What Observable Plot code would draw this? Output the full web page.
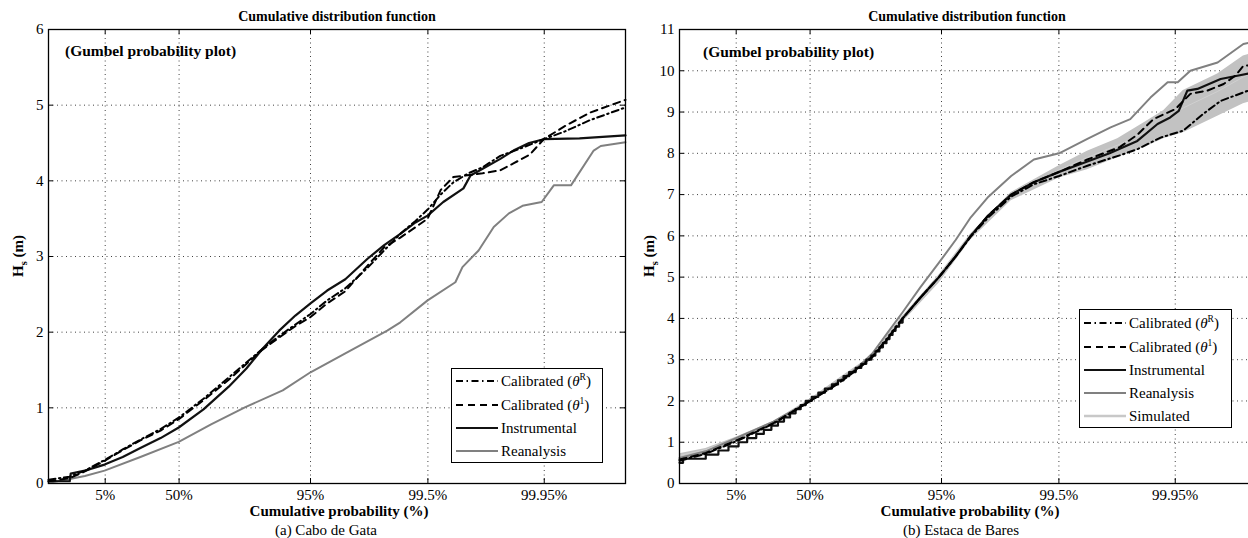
<!DOCTYPE html>
<html><head><meta charset="utf-8">
<script src="https://cdn.jsdelivr.net/npm/d3@7"></script>
<script src="https://cdn.jsdelivr.net/npm/@observablehq/plot@0.6"></script>
<style>
html,body{margin:0;padding:0;background:#fff;overflow:hidden;width:1248px;height:538px}
#fig{position:relative;width:1248px;height:538px;overflow:hidden;font-family:"Liberation Serif","Times New Roman",serif;color:#000}
.panel{position:absolute;top:0}
.t{position:absolute;white-space:nowrap;transform:translate(-50%,-50%);line-height:1}
.l{position:absolute;white-space:nowrap;transform:translate(0,-50%);line-height:1}
.title{font-weight:bold;font-size:14px}
.sub{font-weight:bold;font-size:15.5px}
.xlab{font-weight:bold;font-size:15px}
.cap{font-size:15px}
.ylab{font-weight:bold;font-size:15px;transform:translate(-50%,-50%) rotate(-90deg)}
.legend{position:absolute;border:1px solid #000;background:#fff;box-sizing:border-box}
.row{position:absolute;left:0;height:20px;transform:translateY(-50%);display:flex;align-items:center;font-size:15px;white-space:nowrap}
.row svg{margin-left:4px;margin-right:3px}
</style></head>
<body><div id="fig"></div>
<script>
// ---------- axis definitions ----------
const xTickProbs = [0.05, 0.5, 0.95, 0.995, 0.9995];
const xTickLabels = ["5%", "50%", "95%", "99.5%", "99.95%"];
const xDomainProbs = [0.0001, 0.9999];
const yTicksA = [0, 1, 2, 3, 4, 5, 6];
const yTicksB = [0, 1, 2, 3, 4, 5, 6, 7, 8, 9, 10, 11];

// ---------- (a) Cabo de Gata : [Gumbel reduced variate, Hs] ----------
const instrumentalA = [[-2.22,0.03],[-1.80,0.03],[-1.78,0.13],[-1.50,0.17],[-1.11,0.25],[-0.75,0.35],[-0.40,0.47],[0.0,0.60],[0.36,0.74],[0.85,0.98],[1.35,1.28],[1.70,1.52],[2.02,1.78],[2.35,2.02],[2.67,2.22],[2.97,2.38],[3.30,2.55],[3.66,2.70],[4.10,2.97],[4.43,3.15],[4.75,3.30],[5.05,3.45],[5.29,3.54],[5.60,3.72],[6.00,3.90],[6.14,4.07],[6.38,4.16],[6.73,4.29],[6.99,4.40],[7.30,4.50],[7.59,4.55],[8.30,4.56],[9.21,4.60]];
const calibRA = [[-2.22,0.05],[-1.80,0.09],[-1.50,0.17],[-1.11,0.31],[-0.75,0.45],[-0.40,0.58],[0.0,0.72],[0.36,0.87],[0.85,1.12],[1.35,1.40],[1.70,1.60],[2.02,1.78],[2.35,1.95],[2.67,2.10],[2.97,2.24],[3.30,2.42],[3.66,2.58],[4.10,2.85],[4.43,3.08],[4.75,3.30],[5.05,3.47],[5.29,3.62],[5.55,3.82],[5.80,3.98],[6.10,4.10],[6.38,4.18],[6.73,4.33],[7.10,4.42],[7.59,4.55],[8.0,4.65],[8.5,4.80],[9.21,4.97]];
const calib1A = [[-2.22,0.03],[-1.80,0.07],[-1.50,0.16],[-1.11,0.30],[-0.75,0.44],[-0.40,0.57],[0.0,0.70],[0.36,0.85],[0.85,1.10],[1.35,1.37],[1.70,1.58],[2.02,1.77],[2.35,1.93],[2.67,2.08],[2.97,2.20],[3.30,2.38],[3.66,2.54],[4.10,2.88],[4.43,3.12],[4.75,3.25],[5.10,3.41],[5.29,3.50],[5.55,3.88],[5.80,4.05],[6.38,4.10],[6.73,4.14],[6.99,4.23],[7.32,4.35],[7.59,4.55],[8.0,4.72],[8.5,4.90],[9.21,5.07]];
const reanalysisA = [[-2.22,0.01],[-1.80,0.06],[-1.50,0.10],[-1.11,0.17],[-0.40,0.35],[0.36,0.55],[1.0,0.78],[1.68,1.01],[2.42,1.23],[2.97,1.47],[3.66,1.72],[4.49,2.02],[4.75,2.13],[5.29,2.42],[5.84,2.66],[5.98,2.86],[6.30,3.08],[6.60,3.39],[6.90,3.57],[7.17,3.67],[7.55,3.72],[7.79,3.94],[8.13,3.94],[8.58,4.40],[8.72,4.46],[9.21,4.51]];

// ---------- (b) Estaca de Bares ----------
const instrumentalStepsB = [[-2.22,0.5],[-2.15,0.6],[-1.70,0.7],[-1.45,0.8],[-1.25,0.9],[-1.05,1.0],[-0.88,1.1],[-0.70,1.2],[-0.55,1.3],[-0.40,1.4],[-0.27,1.5],[-0.15,1.6],[-0.03,1.7],[0.08,1.8],[0.18,1.9],[0.28,2.0],[0.40,2.1],[0.53,2.2],[0.66,2.3],[0.80,2.4],[0.92,2.5],[1.03,2.6],[1.14,2.7],[1.27,2.8],[1.38,2.9],[1.48,3.0],[1.58,3.1],[1.66,3.2],[1.74,3.3],[1.81,3.4],[1.88,3.5],[1.94,3.6],[2.00,3.7],[2.06,3.8],[2.13,3.9],[2.20,4.0]];
const instrumentalB = [[2.20,4.0],[2.55,4.5],[2.92,5.0],[3.25,5.5],[3.55,6.0],[3.90,6.5],[4.35,7.0],[4.80,7.3],[5.30,7.55],[5.86,7.8],[6.30,8.0],[6.85,8.3],[7.25,8.71],[7.50,8.87],[7.67,9.03],[7.84,9.52],[8.04,9.56],[8.50,9.80],[8.83,9.88],[9.05,9.93],[9.21,9.95]];
const calibRB = [[-2.22,0.55],[-1.7,0.72],[-1.1,1.02],[-0.36,1.45],[0.37,2.0],[0.9,2.42],[1.3,2.78],[1.6,3.08],[1.9,3.52],[2.2,4.0],[2.55,4.5],[2.92,5.0],[3.25,5.5],[3.55,5.98],[3.9,6.45],[4.35,6.95],[4.8,7.25],[5.3,7.45],[5.86,7.7],[6.5,7.95],[6.85,8.1],[7.31,8.38],[7.76,8.55],[8.16,8.96],[8.5,9.27],[9.05,9.52],[9.21,9.58]];
const calib1B = [[-2.22,0.58],[-1.7,0.74],[-1.1,1.04],[-0.36,1.46],[0.37,2.0],[0.9,2.4],[1.3,2.76],[1.6,3.06],[1.9,3.5],[2.2,4.0],[2.55,4.5],[2.92,5.0],[3.25,5.5],[3.55,6.0],[3.9,6.5],[4.35,7.0],[4.8,7.3],[5.3,7.55],[5.86,7.85],[6.5,8.15],[6.85,8.45],[7.17,8.83],[7.6,9.07],[7.9,9.44],[8.24,9.52],[8.56,9.68],[8.79,9.88],[8.95,10.12],[9.21,10.15]];
const reanalysisB = [[-2.22,0.62],[-1.7,0.78],[-1.1,1.1],[-0.36,1.5],[0.37,2.0],[0.9,2.45],[1.3,2.8],[1.6,3.15],[1.9,3.65],[2.2,4.15],[2.55,4.75],[2.92,5.35],[3.25,5.9],[3.55,6.45],[3.9,6.95],[4.35,7.45],[4.8,7.85],[5.3,8.0],[5.86,8.35],[6.32,8.63],[6.71,8.83],[7.11,9.35],[7.45,9.72],[7.65,9.72],[7.9,10.0],[8.44,10.2],[8.95,10.65],[9.21,10.72]];
// simulated envelope: [g, lower, upper]
const simulatedBandB = [[-2.22,0.50,0.72],[-1.7,0.68,0.85],[-1.1,0.98,1.12],[-0.36,1.40,1.50],[0.37,1.95,2.05],[1.0,2.50,2.60],[1.6,3.00,3.10],[2.2,3.90,4.05],[2.92,4.85,5.05],[3.55,5.90,6.05],[4.35,6.85,7.05],[5.3,7.40,7.70],[5.86,7.60,8.05],[6.46,7.90,8.35],[7.0,8.15,8.75],[7.37,8.35,9.03],[7.76,8.50,9.52],[8.44,8.90,9.92],[8.95,9.20,10.36],[9.21,9.30,10.45]];
const simulatedB = [[-2.22,0.68],[-1.7,0.82],[-1.1,1.09],[-0.36,1.48],[0.37,2.02],[1.0,2.57],[1.6,3.07],[2.2,4.0],[2.92,4.98],[3.55,5.98],[4.35,6.98],[5.3,7.6],[5.86,7.9],[6.46,8.2],[7.0,8.5],[7.37,8.8],[7.76,9.1],[8.44,9.5],[8.95,9.85],[9.21,10.0]];

// ---------- helpers ----------
const G = p => -Math.log(-Math.log(p));
const xTickPos = xTickProbs.map(G);
const xDomain = xDomainProbs.map(G);
const fmtX = d => xTickLabels[xTickPos.findIndex(v => Math.abs(v - d) < 1e-9)];
const FONT = '"Liberation Serif","Times New Roman",serif';

const styles = {
  calibR: {stroke: "#000", strokeWidth: 2, strokeDasharray: "7,3.5,1.5,3.5"},
  calib1: {stroke: "#000", strokeWidth: 2, strokeDasharray: "7,5"},
  instr:  {stroke: "#111", strokeWidth: 2.2},
  rean:   {stroke: "#808080", strokeWidth: 2},
  sim:    {stroke: "#c8c8c8", strokeWidth: 2.5}
};
const X = d => d[0], Y = d => d[1];

function panel(yTicks, series, pxPerY) {
  const yMax = yTicks[yTicks.length - 1];
  const dy = 5 / pxPerY, dx = 5 / 50.5;
  return Plot.plot({
    width: 640, height: 538,
    marginLeft: 48, marginRight: 15, marginTop: 29, marginBottom: 55,
    style: {fontFamily: FONT, fontSize: "15px", background: "transparent", color: "#000"},
    x: {domain: xDomain, label: null},
    y: {domain: [0, yMax], label: null},
    marks: [
      Plot.gridX(xTickPos, {stroke: "#000", strokeOpacity: 0.75, strokeDasharray: "1,3.5"}),
      Plot.gridY(yTicks, {stroke: "#000", strokeOpacity: 0.75, strokeDasharray: "1,3.5"}),
      ...series,
      Plot.ruleX(xTickPos, {y1: 0, y2: dy, stroke: "#000"}),
      Plot.ruleX(xTickPos, {y1: yMax, y2: yMax - dy, stroke: "#000"}),
      Plot.ruleY(yTicks, {x1: xDomain[0], x2: xDomain[0] + dx, stroke: "#000"}),
      Plot.ruleY(yTicks, {x1: xDomain[1], x2: xDomain[1] - dx, stroke: "#000"}),
      Plot.axisX(xTickPos, {tickFormat: fmtX, tickSize: 0, tickPadding: 6, fontSize: 15, label: null}),
      Plot.axisY(yTicks, {tickFormat: d => String(d), tickSize: 0, tickPadding: 5, fontSize: 15, label: null}),
      Plot.frame({stroke: "#000", strokeWidth: 1.3})
    ]
  });
}

const seriesA = [
  Plot.line(reanalysisA, {x: X, y: Y, ...styles.rean}),
  Plot.line(instrumentalA, {x: X, y: Y, ...styles.instr}),
  Plot.line(calib1A, {x: X, y: Y, ...styles.calib1}),
  Plot.line(calibRA, {x: X, y: Y, ...styles.calibR})
];
const seriesB = [
  Plot.areaY(simulatedBandB, {x: d => d[0], y1: d => d[1], y2: d => d[2], fill: "#c2c2c2"}),
  Plot.line(simulatedB, {x: X, y: Y, stroke: "#d0d0d0", strokeWidth: 1}),
  Plot.line(reanalysisB, {x: X, y: Y, ...styles.rean}),
  Plot.line(instrumentalStepsB, {x: X, y: Y, curve: "step-after", ...styles.instr}),
  Plot.line(instrumentalB, {x: X, y: Y, ...styles.instr}),
  Plot.line(calib1B, {x: X, y: Y, ...styles.calib1}),
  Plot.line(calibRB, {x: X, y: Y, ...styles.calibR})
];

const fig = document.getElementById("fig");
const pa = panel(yTicksA, seriesA, 75.67); pa.classList.add("panel"); pa.style.left = "0px";
const pb = panel(yTicksB, seriesB, 41.3); pb.classList.add("panel"); pb.style.left = "631px";
fig.appendChild(pa); fig.appendChild(pb);

function addText(cls, html, x, y) {
  const d = document.createElement("div");
  d.className = cls; d.innerHTML = html; d.style.left = x + "px"; d.style.top = y + "px";
  fig.appendChild(d); return d;
}
const ylabHTML = 'H<sub style="font-size:10.5px">s</sub> (m)';
// panel (a)
addText("t title", "Cumulative distribution function", 337, 17);
addText("l sub", "(Gumbel probability plot)", 65, 51);
addText("t xlab", "Cumulative probability (%)", 339, 511);
addText("t cap", "(a) Cabo de Gata", 326, 530);
addText("t ylab", ylabHTML, 20, 256);
// panel (b)
addText("t title", "Cumulative distribution function", 967, 17);
addText("l sub", "(Gumbel probability plot)", 703, 52);
addText("t xlab", "Cumulative probability (%)", 970, 511);
addText("t cap", "(b) Estaca de Bares", 961, 530);
addText("t ylab", ylabHTML, 651, 256);

// legends
const legendItems = {
  calibR: 'Calibrated (<i>θ</i><sup style="font-size:9.5px">R</sup>)',
  calib1: 'Calibrated (<i>θ</i><sup style="font-size:9.5px">1</sup>)',
  instr: "Instrumental",
  rean: "Reanalysis",
  sim: "Simulated"
};
function legend(keys, left, top, w, h, rowYs) {
  const box = document.createElement("div");
  box.className = "legend";
  Object.assign(box.style, {left: left + "px", top: top + "px", width: w + "px", height: h + "px"});
  keys.forEach((k, i) => {
    const s = styles[k];
    const row = document.createElement("div");
    row.className = "row"; row.style.top = rowYs[i] + "px";
    row.innerHTML = `<svg width="42" height="10"><line x1="0" y1="5" x2="42" y2="5" stroke="${s.stroke}" stroke-width="${s.strokeWidth}" ${s.strokeDasharray ? `stroke-dasharray="${s.strokeDasharray}"` : ""}/></svg><span>${legendItems[k]}</span>`;
    box.appendChild(row);
  });
  fig.appendChild(box);
}
legend(["calibR", "calib1", "instr", "rean"], 451, 368, 152, 95, [12, 36, 59, 82]);
legend(["calibR", "calib1", "instr", "rean", "sim"], 1079, 309, 153, 119, [13, 37, 60, 83, 106]);
</script></body></html>
